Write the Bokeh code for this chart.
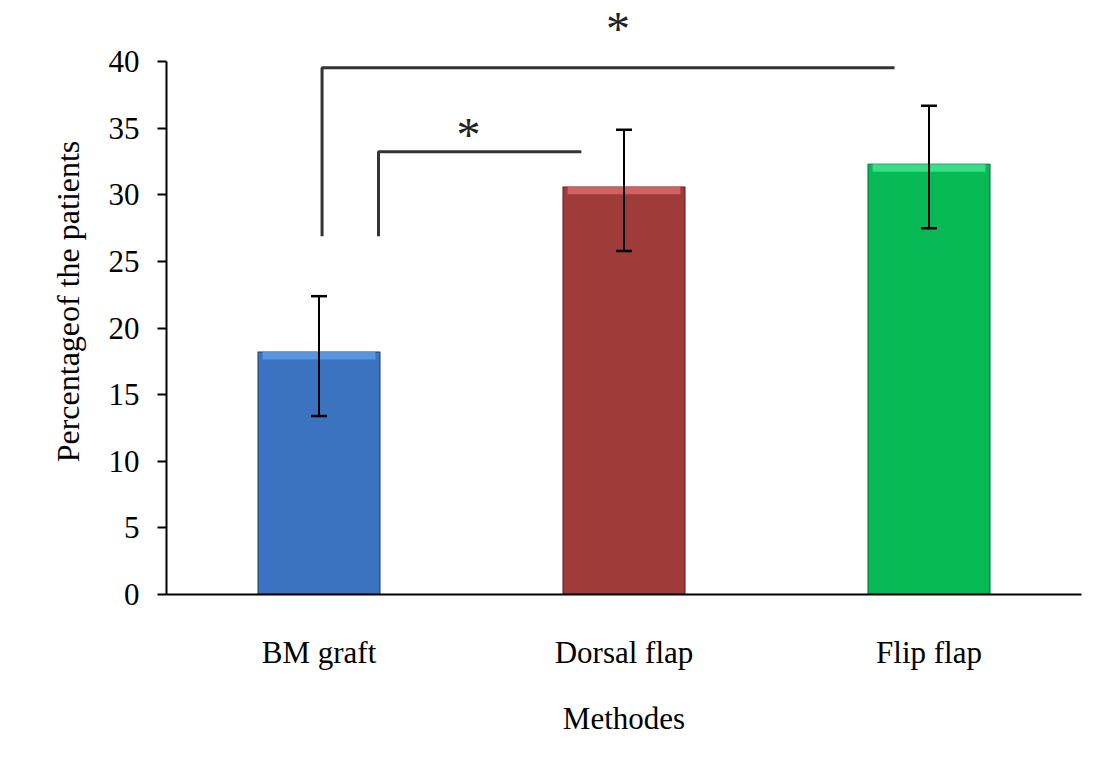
from bokeh.plotting import figure
from bokeh.models import Range1d, FixedTicker, Whisker, ColumnDataSource, TeeHead
from bokeh.core.properties import value
from bokeh.embed import file_html
from bokeh.resources import INLINE

# ---- data ----
categories = ["BM graft", "Dorsal flap", "Flip flap"]
percent = [18.2, 30.6, 32.3]
err_low = [13.4, 25.8, 27.5]
err_high = [22.4, 34.9, 36.7]
bar_colors = ["#3b73c0", "#9f3b39", "#07b955"]
bevel_colors = ["#5b9be6", "#d86a68", "#3fe391"]
edge_colors = ["#1f3f6e", "#5e1f1e", "#04703a"]
y_ticks = [0, 5, 10, 15, 20, 25, 30, 35, 40]

# significance brackets (x in category units, y in %)
br_left = [0.695, 0.51]
br_right = [1.36, 2.387]
br_top = [33.25, 39.55]
br_bottom = [26.9, 26.9]
star_x = [0.99, 1.48]
star_y = [35.1, 43.0]
star_text = ["*", "*"]

FONT = "Liberation Serif"

xpos = [i + 0.5 for i in range(len(categories))]

p = figure(width=1095, height=768, output_backend="svg", toolbar_location=None,
           x_range=Range1d(0, 3), y_range=Range1d(0, 44),
           min_border_left=166, min_border_right=14, min_border_top=8,
           min_border_bottom=174)
p.outline_line_color = None
p.grid.grid_line_color = None
p.background_fill_color = "white"
p.border_fill_color = "white"

src = ColumnDataSource(dict(x=xpos, top=percent, color=bar_colors,
                            bevel=bevel_colors, edge=edge_colors,
                            btop=percent, bbot=[v - 0.55 for v in percent],
                            lo=err_low, hi=err_high))

p.vbar(x="x", top="top", bottom=0, width=0.4, fill_color="color",
       line_color="edge", line_width=1.5, line_alpha=0.7, source=src)
p.vbar(x="x", top="btop", bottom="bbot", width=0.37, fill_color="bevel",
       line_color=None, fill_alpha=0.85, source=src)

w = Whisker(base="x", lower="lo", upper="hi", source=src, level="overlay",
            line_color="black", line_width=2,
            upper_head=TeeHead(size=16, line_width=2.5, line_color="black"),
            lower_head=TeeHead(size=16, line_width=2.5, line_color="black"))
p.add_layout(w)

# brackets
for l, r, t, b in zip(br_left, br_right, br_top, br_bottom):
    p.line(x=[l, l, r], y=[b, t, t], line_color="#333333", line_width=3)

p.text(x=star_x, y=star_y, text=star_text, text_font=value(FONT),
       text_font_size="48px", text_align="center", text_baseline="middle",
       text_color="#222222", y_offset=7)

# y axis
ya = p.yaxis[0]
ya.ticker = FixedTicker(ticks=y_ticks)
ya.bounds = (0, 40)
ya.axis_line_width = 2
ya.axis_line_color = "black"
ya.major_tick_out = 9
ya.major_tick_in = 0
ya.major_tick_line_width = 2
ya.minor_tick_line_color = None
ya.major_label_text_font = FONT
ya.major_label_text_font_size = "31px"
ya.major_label_text_color = "black"
ya.major_label_standoff = 18
ya.axis_label = "Percentageof the patients"
ya.axis_label_text_font = FONT
ya.axis_label_text_font_size = "32px"
ya.axis_label_text_font_style = "normal"
ya.axis_label_text_color = "black"
ya.axis_label_standoff = 20

# x axis
xa = p.xaxis[0]
xa.ticker = FixedTicker(ticks=xpos)
xa.major_label_overrides = {x: c for x, c in zip(xpos, categories)}
xa.axis_line_width = 2
xa.axis_line_color = "black"
xa.major_tick_line_color = None
xa.major_tick_out = 0
xa.major_tick_in = 0
xa.minor_tick_line_color = None
xa.major_label_text_font = FONT
xa.major_label_text_font_size = "31px"
xa.major_label_text_color = "black"
xa.major_label_standoff = 40
xa.axis_label = "Methodes"
xa.axis_label_text_font = FONT
xa.axis_label_text_font_size = "31px"
xa.axis_label_text_font_style = "normal"
xa.axis_label_text_color = "black"
xa.axis_label_standoff = 28

open("out.html", "w").write(file_html(p, INLINE))
